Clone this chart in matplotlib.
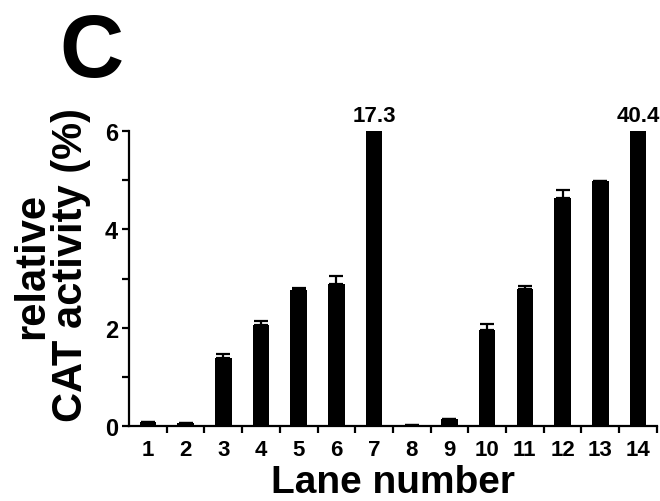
import numpy as np
from matplotlib import pyplot as plt
from matplotlib.ticker import MultipleLocator

plt.rcParams['font.family'] = ['Liberation Sans', 'DejaVu Sans']
plt.rcParams['font.weight'] = 'bold'

# lane data (percent CAT activity)
lanes = list(range(1, 15))
activity = [0.09, 0.06, 1.38, 2.05, 2.76, 2.89, 17.3, 0.02, 0.14, 1.96, 2.79, 4.63, 4.98, 40.4]
errors = [0, 0, 0.08, 0.08, 0.04, 0.17, 0, 0, 0, 0.11, 0.06, 0.17, 0.01, 0]
ymax = 6

fig = plt.figure(figsize=(6.6, 5.02), dpi=100)
ax = fig.add_axes([0.1955, 0.1494, 0.7996, 0.5876])

shown = [min(v, ymax) for v in activity]
ax.bar(lanes, shown, width=0.44, color='black', zorder=2)
ax.errorbar(lanes, shown, yerr=[np.zeros(len(errors)), errors], fmt='none',
            ecolor='black', elinewidth=1.6, capsize=5, capthick=1.6, zorder=1)

# values of the off-scale bars
for x, v in zip(lanes, activity):
    if v > ymax:
        ax.text(x, ymax + 0.1, str(v), ha='center', va='bottom',
                fontsize=16, fontweight='bold', clip_on=False)

ax.set_xlim(0.5, 14.5)
ax.set_ylim(0, ymax)
for s in ['top', 'right']:
    ax.spines[s].set_visible(False)
for s in ['left', 'bottom']:
    ax.spines[s].set_linewidth(1.6)

ax.set_yticks([0, 2, 4, 6])
ax.yaxis.set_minor_locator(MultipleLocator(1))
ax.tick_params(axis='y', which='both', direction='out', length=5, width=1.6,
               labelsize=17, pad=3)

ax.set_xticks(lanes)
ax.set_xticklabels([str(l) for l in lanes], fontweight='bold')
ax.set_xticks(np.arange(1.5, 14.6, 1), minor=True)
ax.tick_params(axis='x', which='major', length=0, labelsize=16, pad=9)
ax.tick_params(axis='x', which='minor', direction='out', length=5, width=1.6)
for lab in ax.get_yticklabels():
    lab.set_fontweight('bold')

# axis titles placed by hand
fig.text(0.5955, 1 - 493 / 502, 'Lane number', fontsize=28, fontweight='bold',
         ha='center', va='baseline')
fig.text(82 / 660, 1 - 265 / 502, 'CAT activity (%)', rotation=90,
         rotation_mode='anchor', ha='center', va='baseline',
         fontsize=30, fontweight='bold')
fig.text(43 / 660, 1 - 266 / 502, 'relative', rotation=90,
         rotation_mode='anchor', ha='center', va='baseline',
         fontsize=30, fontweight='bold')

fig.text(91 / 660, 1 - 77 / 502, 'C', fontsize=64, fontweight='bold',
         ha='center', va='baseline')

fig.savefig('out.png', dpi=100)
